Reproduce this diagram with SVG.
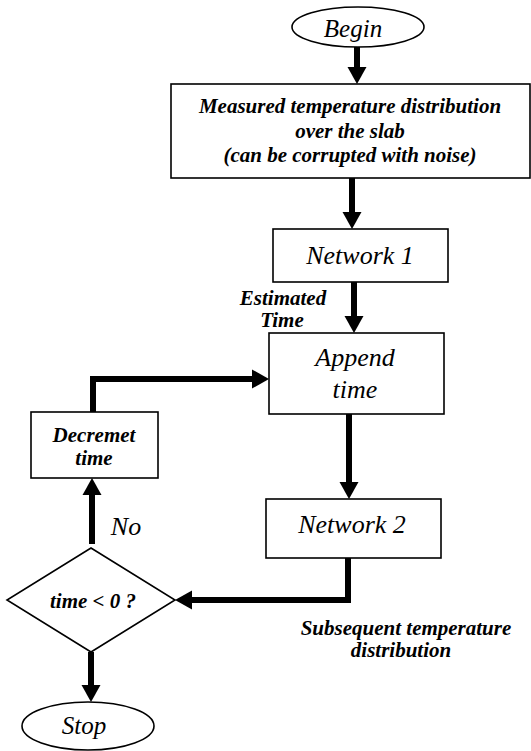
<svg xmlns="http://www.w3.org/2000/svg" width="531" height="751" viewBox="0 0 531 751">
<defs>
<marker id="ah" markerUnits="userSpaceOnUse" markerWidth="18" markerHeight="20" refX="0" refY="9.5" orient="auto" viewBox="0 0 18 19">
<path d="M0,0 L17,9.5 L0,19 z" fill="#000"/>
</marker>
</defs>
<rect width="531" height="751" fill="#fff"/>
<g id="connectors" fill="none" stroke="#000" stroke-width="6">
<path d="M357,47 V67" marker-end="url(#ah)"/>
<path d="M352,178 V212" marker-end="url(#ah)"/>
<path d="M354,282 V316" marker-end="url(#ah)"/>
<path d="M349,414 V482" marker-end="url(#ah)"/>
<path d="M348,558 V600 H192" marker-end="url(#ah)"/>
<path d="M92,544 V495" marker-end="url(#ah)"/>
<path d="M93,412 V379 H252" marker-end="url(#ah)"/>
<path d="M91,652 V685" marker-end="url(#ah)"/>
</g>
<g font-family="Liberation Serif" font-style="italic" text-anchor="middle" fill="#000">
<g id="begin">
<ellipse cx="358" cy="27" rx="66" ry="20" fill="#fff" stroke="#000" stroke-width="1.6"/>
<text x="353" y="37" font-size="25">Begin</text>
</g>
<g id="measured" font-weight="bold" font-size="21">
<rect x="171" y="84" width="359" height="94" fill="#fff" stroke="#000" stroke-width="1.6"/>
<text x="350" y="113">Measured temperature distribution</text>
<text x="350" y="138">over the slab</text>
<text x="350" y="162">(can be corrupted with noise)</text>
</g>
<g id="network1">
<rect x="273" y="229" width="175" height="53" fill="#fff" stroke="#000" stroke-width="1.6"/>
<text x="360" y="264" font-size="26">Network 1</text>
</g>
<g id="estimated-label" font-weight="bold" font-size="21">
<text x="283" y="305">Estimated</text>
<text x="282" y="327">Time</text>
</g>
<g id="append" font-size="26">
<rect x="269" y="333" width="175" height="81" fill="#fff" stroke="#000" stroke-width="1.6"/>
<text x="355" y="366">Append</text>
<text x="355" y="398">time</text>
</g>
<g id="network2">
<rect x="266" y="499" width="175" height="59" fill="#fff" stroke="#000" stroke-width="1.6"/>
<text x="352" y="533" font-size="26">Network 2</text>
</g>
<g id="decrement" font-weight="bold" font-size="21">
<rect x="31" y="412" width="127" height="66" fill="#fff" stroke="#000" stroke-width="1.6"/>
<text x="94" y="442">Decremet</text>
<text x="94" y="465">time</text>
</g>
<g id="no-label">
<text x="126" y="535" font-size="26">No</text>
</g>
<g id="decision">
<polygon points="91,548 175,600 91,652 7,600" fill="#fff" stroke="#000" stroke-width="1.6"/>
<text x="93" y="608" font-weight="bold" font-size="21">time &lt; 0 ?</text>
</g>
<g id="subsequent-label" font-weight="bold" font-size="21">
<text x="406" y="635">Subsequent temperature</text>
<text x="401" y="657">distribution</text>
</g>
<g id="stop">
<ellipse cx="88" cy="726" rx="66" ry="24" fill="#fff" stroke="#000" stroke-width="1.6"/>
<text x="84" y="734" font-size="25">Stop</text>
</g>
</g>
</svg>
